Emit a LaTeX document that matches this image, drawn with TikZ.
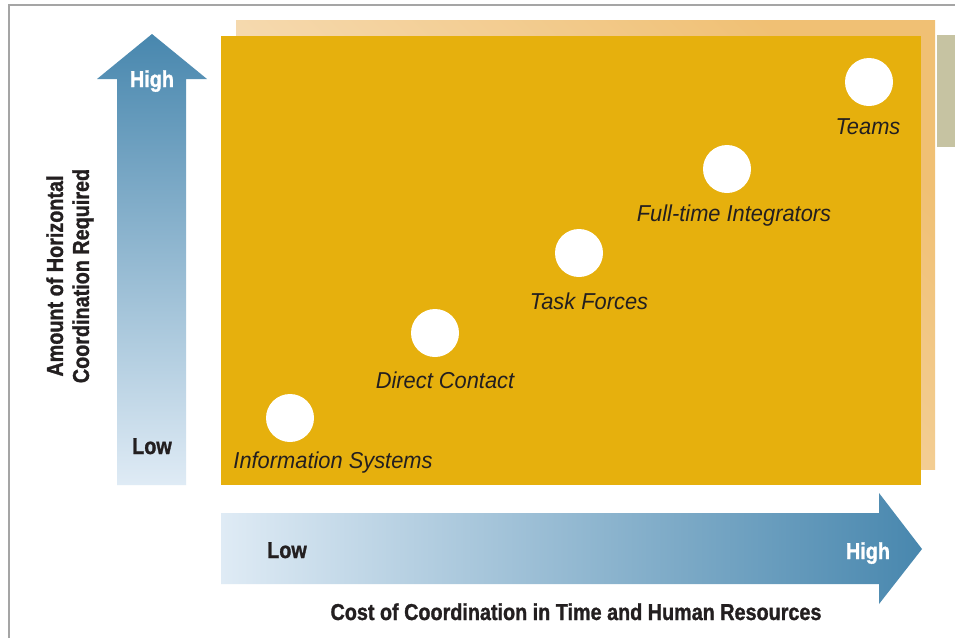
\documentclass[tikz,border=0pt]{standalone}
\usepackage{fontspec}
\setmainfont{Liberation Sans}
\newfontfamily\condfont[FakeStretch=0.86, BoldFeatures={FakeBold=1.2}]{Liberation Sans}
\newfontfamily\mechfont[FakeStretch=0.95]{Liberation Sans}
\usepackage{xcolor}
\usetikzlibrary{positioning}

\definecolor{gold}{HTML}{E6B00D}
\definecolor{backlight}{HTML}{F8E6CC}
\definecolor{backdark}{HTML}{F0C074}
\definecolor{sage}{HTML}{C6C3A2}
\definecolor{bluedark}{HTML}{4887AE}
\definecolor{bluelight}{HTML}{DFEBF5}
\definecolor{inkdark}{HTML}{231F20}
\definecolor{framegray}{HTML}{A5A5A5}

\begin{document}
\begin{tikzpicture}[x=1pt, y=-1pt,
    dot/.style={circle, fill=white, minimum size=48pt, inner sep=0pt},
    mech/.style={font=\mechfont\itshape\fontsize{23}{23}\selectfont, text=inkdark, inner sep=0pt, anchor=base},
    scale label/.style={font=\condfont\bfseries\fontsize{23}{26}\selectfont, inner sep=0pt, anchor=base}]
    \useasboundingbox (0,0) rectangle (955,638);
    \fill[white] (0,0) rectangle (955,638);
    \draw[framegray, line width=2pt] (8.5,638) -- (8.5,4.7) -- (955,4.7);
    \shade[top color=backdark, bottom color=backlight, shading angle=-45] (236,20) rectangle (935,469);
    \fill[gold] (221,36) rectangle (921,485);
    \fill[sage] (937,35) rectangle (955,147);
    \shade[top color=bluedark, bottom color=bluelight] (117,485) -- (117,79) -- (97,79) -- (152,34) -- (207,79) -- (186,79) -- (186,485) -- cycle;
    \shade[left color=bluelight, right color=bluedark] (221,513) -- (879,513) -- (879,493) -- (922,549) -- (879,604) -- (879,584) -- (221,584) -- cycle;

    \node[dot] (is) at (290,418) {};
    \node[dot] (dc) at (435,333) {};
    \node[dot] (tf) at (579,253) {};
    \node[dot] (fi) at (727,169) {};
    \node[dot] (tm) at (869,82) {};
    \node[mech] (isl) at (333,468) {Information Systems};
    \node[mech] (dcl) at (445,388) {Direct Contact};
    \node[mech] (tfl) at (589,309) {Task Forces};
    \node[mech] (fil) at (734,221) {Full-time Integrators};
    \node[mech] (tml) at (868,134) {Teams};

    \node[scale label, text=white] (vhigh) at (152,87) {High};
    \node[scale label, text=inkdark] (vlow) at (152,454) {Low};
    \node[scale label, text=inkdark] (hlow) at (287,558) {Low};
    \node[scale label, text=white] (hhigh) at (868,559) {High};
    \node[scale label, text=inkdark] (hcap) at (576,620) {Cost of Coordination in Time and Human Resources};
    \node[scale label, text=inkdark, anchor=center, align=center, rotate=90] (vcap) at (70,276) {Amount of Horizontal\\Coordination Required};
\end{tikzpicture}
\end{document}
